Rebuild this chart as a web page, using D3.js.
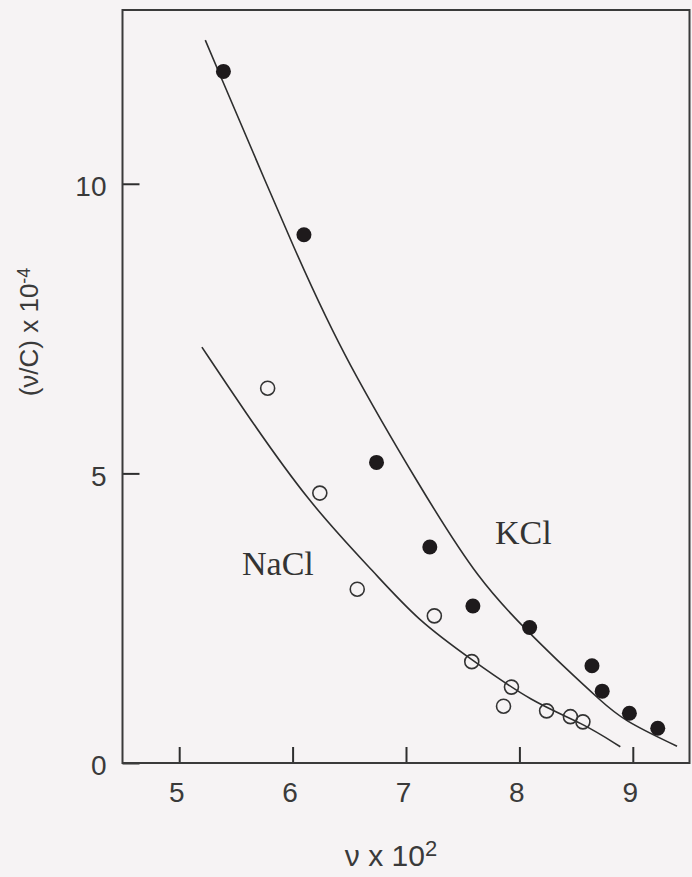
<!DOCTYPE html>
<meta charset="utf-8">
<style>
  body { margin: 0; background: #f6f3f4; }
  svg { display: block; }
  .tick text { font-family: "Liberation Sans", Arial, sans-serif; font-size: 28px; fill: #3a3a3a; }
  .tick line { stroke: #2e2e2e; stroke-width: 2px; }
  .fit { fill: none; stroke: #2e2e2e; stroke-width: 1.6px; }
  .label { font-family: "Liberation Serif", "Times New Roman", serif; font-size: 34px; fill: #333; }
  .axis-title { font-family: "Liberation Sans", Arial, sans-serif; fill: #3a3a3a; }
</style>
<body>
<svg width="692" height="877"></svg>
<script src="https://d3js.org/d3.v7.min.js"></script>
<script>

// KCl (filled circles): nu x 10^2, (nu/C) x 10^-4
var kclNu  = [5.39, 6.10, 6.74, 7.21, 7.59, 8.09, 8.64, 8.73, 8.97, 9.22];
var kclVal = [11.94, 9.12, 5.19, 3.73, 2.71, 2.34, 1.68, 1.24, 0.86, 0.60];

// NaCl (open circles)
var naclNu  = [5.78, 6.24, 6.57, 7.25, 7.58, 7.93, 7.86, 8.24, 8.45, 8.56];
var naclVal = [6.47, 4.66, 3.00, 2.54, 1.75, 1.31, 0.98, 0.90, 0.80, 0.71];

// fitted curves
var kclCurveNu  = [5.23, 6.09, 6.47, 7.12, 7.65, 8.09, 8.42, 8.71, 8.91, 9.39];
var kclCurveVal = [12.48, 8.51, 6.96, 4.77, 3.12, 2.24, 1.61, 1.09, 0.74, 0.29];
var naclCurveNu  = [5.20, 5.54, 6.14, 6.74, 7.10, 7.58, 8.12, 8.56, 8.89];
var naclCurveVal = [7.18, 6.18, 4.49, 3.25, 2.47, 1.78, 1.04, 0.69, 0.28];

var xTicks = [5, 6, 7, 8, 9];
var yTicks = [0, 5, 10];

var svg = d3.select("svg");

var x = d3.scaleLinear().domain([4.5, 9.5]).range([122.5, 689.5]);
var y = d3.scaleLinear().domain([0, 13]).range([763, 10]);

var zip = function(a, b) { return a.map(function(d, i) { return [d, b[i]]; }); };

// x axis, ticks pointing inward
svg.append("g")
  .attr("transform", "translate(0," + y(0) + ")")
  .call(d3.axisBottom(x).tickValues(xTicks).tickFormat(d3.format("d"))
    .tickSizeInner(-16).tickSizeOuter(0).tickPadding(19))
  .call(function(g) { g.select(".domain").remove(); })
  .selectAll("text").attr("dx", "-3");

svg.append("g")
  .attr("transform", "translate(" + x(4.5) + ",0)")
  .call(d3.axisLeft(y).tickValues(yTicks).tickFormat(d3.format("d"))
    .tickSizeInner(-17).tickSizeOuter(0).tickPadding(16))
  .call(function(g) { g.select(".domain").remove(); })
  .selectAll("text").attr("dy", "0.42em");

// frame
svg.append("rect")
  .attr("x", x(4.5)).attr("y", y(13))
  .attr("width", x(9.5) - x(4.5)).attr("height", y(0) - y(13))
  .attr("fill", "none").attr("stroke", "#3a3a3a").attr("stroke-width", 2);

var line = d3.line()
  .x(function(d) { return x(d[0]); })
  .y(function(d) { return y(d[1]); })
  .curve(d3.curveBasis);

svg.append("path").attr("class", "fit").attr("d", line(zip(kclCurveNu, kclCurveVal)));
svg.append("path").attr("class", "fit").attr("d", line(zip(naclCurveNu, naclCurveVal)));

svg.append("g").selectAll("circle")
  .data(zip(kclNu, kclVal))
  .enter().append("circle")
  .attr("cx", function(d) { return x(d[0]); })
  .attr("cy", function(d) { return y(d[1]); })
  .attr("r", 7.5)
  .attr("fill", "#1e1a1c");

svg.append("g").selectAll("circle")
  .data(zip(naclNu, naclVal))
  .enter().append("circle")
  .attr("cx", function(d) { return x(d[0]); })
  .attr("cy", function(d) { return y(d[1]); })
  .attr("r", 7)
  .attr("fill", "none")
  .attr("stroke", "#333")
  .attr("stroke-width", 1.6);

svg.append("text").attr("class", "label").attr("x", 495).attr("y", 544).text("KCl");
svg.append("text").attr("class", "label").attr("x", 242).attr("y", 575).text("NaCl");

// axis titles
var xt = svg.append("text").attr("class", "axis-title")
  .attr("x", 391).attr("y", 866).attr("text-anchor", "middle")
  .style("font-size", "30px");
xt.append("tspan").text("ν x 10");
xt.append("tspan").attr("dy", "-0.45em").style("font-size", "22px").text("2");

var yt = svg.append("text").attr("class", "axis-title")
  .attr("transform", "translate(38,332) rotate(-90)")
  .attr("text-anchor", "middle")
  .style("font-size", "26px");
yt.append("tspan").text("(ν/C) x 10");
yt.append("tspan").attr("dy", "-0.45em").style("font-size", "18px").text("-4");

</script>
</body>
